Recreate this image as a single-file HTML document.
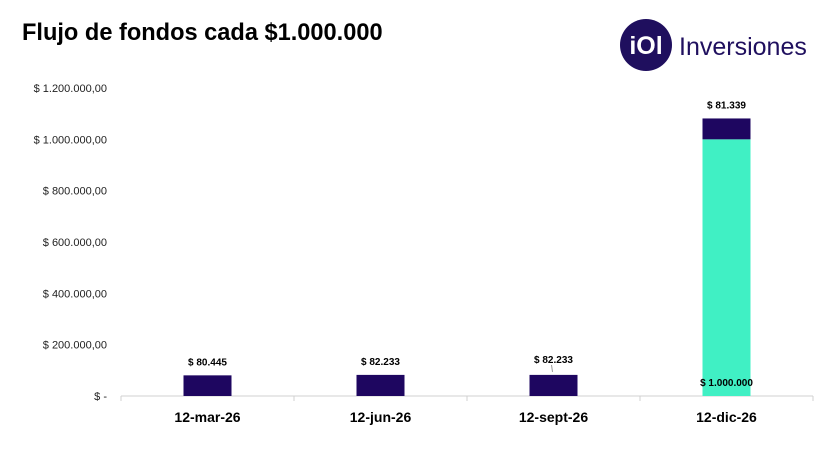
<!DOCTYPE html>
<html><head><meta charset="utf-8"><style>
body{margin:0;width:832px;height:450px;background:#fff;overflow:hidden;font-family:"Liberation Sans",Arial,sans-serif}
</style></head><body>
<svg width="832" height="450" style="position:absolute;left:0;top:0">
<text x="22" y="40" font-size="23.6" font-weight="bold" fill="#000" font-family="Liberation Sans">Flujo de fondos cada $1.000.000</text>
<g>
<circle cx="646" cy="45" r="26" fill="#1f0f5e"/>
<text x="646" y="54" font-size="25" font-weight="bold" fill="#fff" text-anchor="middle" font-family="Liberation Sans">iOl</text>
<text x="679" y="55" font-size="25" fill="#1f0f5e" font-family="Liberation Sans">Inversiones</text>
</g>
<g id="yaxis"></g>
<g id="plot"></g>
</svg>
<script>
const categories=["12-mar-26","12-jun-26","12-sept-26","12-dic-26"];
const interest=[80445,82233,82233,81339];
const principal=[0,0,0,1000000];
const interestLabels=["$ 80.445","$ 82.233","$ 82.233","$ 81.339"];
const principalLabels=["","","","$ 1.000.000"];
const yTicks=[0,200000,400000,600000,800000,1000000,1200000];
const yTickLabels=["$ -","$ 200.000,00","$ 400.000,00","$ 600.000,00","$ 800.000,00","$ 1.000.000,00","$ 1.200.000,00"];
const NS="http://www.w3.org/2000/svg";
const x0=121,x1=813,y0=396,yTop=88,yMax=1200000;
const y=v=>y0-(v/yMax)*(y0-yTop);
const band=(x1-x0)/categories.length;
const xc=i=>x0+band*(i+0.5);
const bw=48;
function mk(tag,attrs,parent){const e=document.createElementNS(NS,tag);for(const k in attrs)e.setAttribute(k,attrs[k]);parent.appendChild(e);return e;}
const ya=document.getElementById('yaxis'),plot=document.getElementById('plot');
yTicks.forEach((t,i)=>{
 const tx=mk('text',{x:107,y:y(t)+4,'font-size':11,'text-anchor':'end',fill:'#222'},ya);
 tx.textContent=yTickLabels[i];
 
 
});
const ax=mk('line',{x1:x0,x2:x1,y1:y0,y2:y0,stroke:'#d0d0d0','stroke-width':1},plot);


for(let i=0;i<=categories.length;i++){
 const tk=mk('line',{x1:x0+band*i,x2:x0+band*i,y1:y0,y2:y0+5,stroke:'#d0d0d0'},plot);
 
 
}
categories.forEach((c,i)=>{
 const cx=xc(i);
 if(principal[i]>0){
  const p=mk('rect',{x:cx-bw/2,y:y(principal[i]),width:bw,height:y0-y(principal[i]),fill:'#40f0c4'},plot);
  
  
  const pl=mk('text',{x:cx,y:y0-10,'font-size':10,'font-weight':'bold','text-anchor':'middle',fill:'#000'},plot);
  pl.textContent=principalLabels[i];
  
  
 }
 const top=principal[i]+interest[i];
 const r=mk('rect',{x:cx-bw/2,y:y(top),width:bw,height:y(principal[i])-y(top),fill:'#1e0660'},plot);
 
 
 const off=(i===2)?16:14;
 if(i===2){
  const ld=mk('line',{x1:cx-2,y1:y(top)-10,x2:cx-1,y2:y(top)-3,stroke:'#999','stroke-width':1},plot);
  
  
 }
 const l=mk('text',{x:cx,y:y(top)-off+4,'font-size':10,'font-weight':'bold','text-anchor':'middle',fill:'#000'},plot);
 l.textContent=interestLabels[i];
 
 
 const xl=mk('text',{x:cx,y:422,'font-size':14,'font-weight':'bold','text-anchor':'middle',fill:'#000'},plot);
 xl.textContent=c;
 
 
});
</script>
</body></html>
